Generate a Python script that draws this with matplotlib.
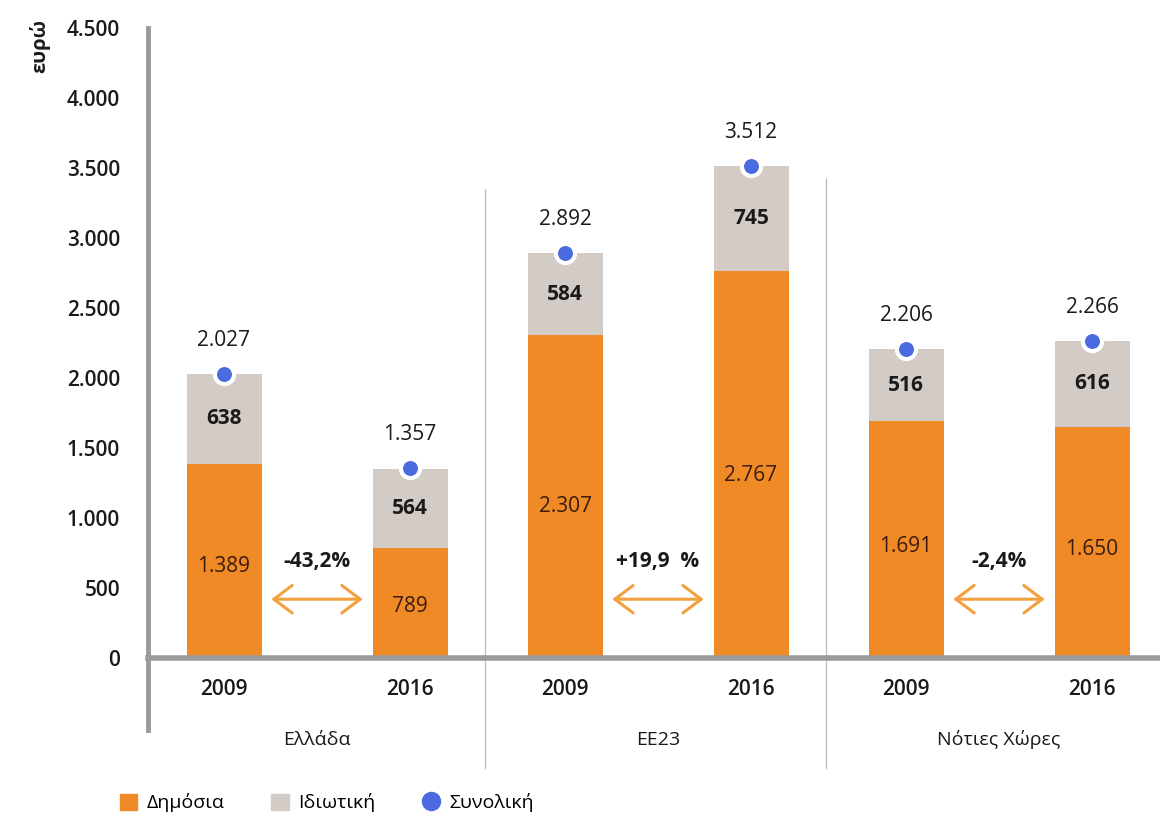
import numpy as np
import matplotlib.pyplot as plt
from matplotlib.patches import Rectangle
from matplotlib.lines import Line2D

plt.rcParams['font.family'] = ['Open Sans', 'DejaVu Sans']

# data
groups = ['Ελλάδα', 'ΕΕ23', 'Νότιες Χώρες']
years = ['2009', '2016']
public = [1389, 789, 2307, 2767, 1691, 1650]
private = [638, 564, 584, 745, 516, 616]
total = [2027, 1357, 2892, 3512, 2206, 2266]
changes = ['-43,2%', '+19,9  %', '-2,4%']

c_pub = '#F08A26'
c_priv = '#D3CBC6'
c_tot = '#4A6BE0'
c_axis = '#9A9A9A'
c_txt = '#1a1a1a'


def fmt(v):
    return f'{v:,}'.replace(',', '.')


fig = plt.figure(figsize=(11.6, 8.17), dpi=100)
ax = fig.add_axes([148 / 1160, 1 - 658 / 817, 1 - 148 / 1160, 630 / 817])

g_step = 3.41
b_off = 0.93
width = 0.75
xs = []
for g in range(len(groups)):
    c = 1.69 + g * g_step
    xs += [c - b_off, c + b_off]
xs = np.array(xs)

ax.bar(xs, public, width, color=c_pub, zorder=2)
ax.bar(xs, private, width, bottom=public, color=c_priv, zorder=2)
ax.scatter(xs, total, s=190, color=c_tot, edgecolor='white', linewidth=3, zorder=4)

for x, p, q, t in zip(xs, public, private, total):
    ax.text(x, p * 0.47, fmt(p), ha='center', va='center',
            fontsize=15, color='#3a1c10', zorder=5)
    ax.text(x, p + q / 2, fmt(q), ha='center', va='center', fontsize=15,
            fontweight='bold', color=c_txt, zorder=5)
    ax.text(x, t + 240, fmt(t), ha='center', va='center', fontsize=15, color=c_txt)

# change arrows
for g in range(len(groups)):
    x0, x1 = xs[2 * g] + width / 2 + 0.07, xs[2 * g + 1] - width / 2 - 0.07
    ax.annotate('', xy=(x1, 420), xytext=(x0, 420),
                arrowprops=dict(arrowstyle='<->,head_length=0.6,head_width=0.45',
                                color='#F2A040', lw=2.2, mutation_scale=22))
    ax.text((x0 + x1) / 2, 690, changes[g], ha='center', va='center',
            fontsize=15, fontweight='bold', color=c_txt)

ax.set_xlim(0, 10.12)
ax.set_ylim(0, 4500)
ax.set_yticks(np.arange(0, 4501, 500))
ax.set_yticklabels([fmt(v) for v in range(0, 4501, 500)], fontsize=15,
                   color=c_txt, fontweight='semibold')
ax.tick_params(axis='y', length=0, pad=20)
ax.set_xticks([])

for s in ['top', 'right', 'bottom']:
    ax.spines[s].set_visible(False)
ax.spines['left'].set_color(c_axis)
ax.spines['left'].set_linewidth(3.5)
ax.spines['left'].set_bounds(0, 4500)

ax.axhline(0, color=c_axis, lw=4, zorder=3, clip_on=False)

# years and group names
trans = ax.get_xaxis_transform()
for i, x in enumerate(xs):
    ax.text(x, -0.05, years[i % 2], transform=trans, ha='center', va='center',
            fontsize=15, fontweight='semibold', color=c_txt)
for g in range(len(groups)):
    ax.text(1.69 + g * g_step, -0.13, groups[g], transform=trans, ha='center',
            va='center', fontsize=14, color=c_txt)

# left spine extension and separators
ax.plot([0, 0], [-0.115, 0], transform=trans, color=c_axis, lw=3.5, clip_on=False)
for g in range(1, len(groups)):
    xsep = 1.69 + (g - 0.5) * g_step - 0.03
    top = 0.745 if g == 1 else 0.76
    ax.plot([xsep, xsep], [-0.175, top], transform=trans, color='#bbbbbb',
            lw=0.9, clip_on=False, zorder=1)

fig.text(40 / 1160, 1 - 46 / 817, 'ευρώ', rotation=90, ha='center', va='center',
         fontsize=14.5, fontweight='bold', color=c_txt)

handles = [Rectangle((0, 0), 1, 1, color=c_pub),
           Rectangle((0, 0), 1, 1, color=c_priv),
           Line2D([], [], marker='o', ls='', markersize=13, color=c_tot)]
fig.legend(handles, ['Δημόσια', 'Ιδιωτική', 'Συνολική'], loc='center left',
           bbox_to_anchor=(102 / 1160, 1 - 803 / 817), ncol=3, frameon=False,
           fontsize=14, handlelength=0.9, handleheight=0.9, columnspacing=2.4,
           handletextpad=0.5)

fig.savefig('out.png', dpi=100)
